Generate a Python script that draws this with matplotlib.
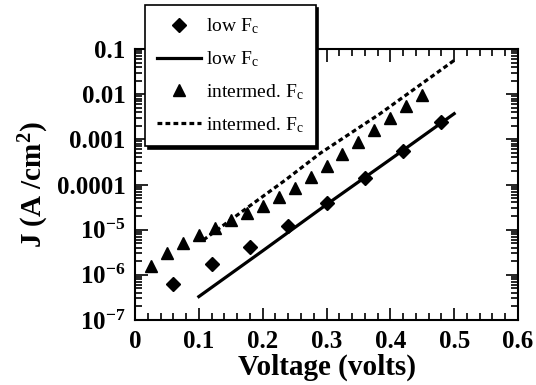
import matplotlib
matplotlib.use("Agg")
import matplotlib.pyplot as plt
from matplotlib.ticker import FixedLocator, FuncFormatter, LogLocator, MultipleLocator
import numpy as np

# Data
low_pts_v = [0.06, 0.12, 0.18, 0.24, 0.30, 0.36, 0.42, 0.48]
low_pts_j = [6.4e-7, 1.7e-6, 4.1e-6, 1.2e-5, 3.9e-5, 1.4e-4, 5.5e-4, 2.4e-3]

low_fit_v = [0.10, 0.20, 0.30, 0.40, 0.50]
low_fit_j = [3.3e-7, 3.4e-6, 3.6e-5, 3.6e-4, 3.7e-3]

int_pts_v = [0.025, 0.05, 0.075, 0.10, 0.125, 0.15, 0.175, 0.20, 0.225, 0.25,
             0.275, 0.30, 0.325, 0.35, 0.375, 0.40, 0.425, 0.45]
int_pts_j = [1.6e-6, 3.0e-6, 5.2e-6, 7.6e-6, 1.1e-5, 1.6e-5, 2.3e-5, 3.3e-5, 5.2e-5, 8.5e-5,
             1.5e-4, 2.6e-4, 4.7e-4, 8.6e-4, 1.6e-3, 3.0e-3, 5.5e-3, 9.5e-3]

int_fit_v = [0.107, 0.175, 0.237, 0.29, 0.384, 0.50]
int_fit_j = [5.9e-6, 3.0e-5, 1.3e-4, 4.9e-4, 3.7e-3, 5.6e-2]

labels = [r"low F$_{\mathrm{c}}$", r"low F$_{\mathrm{c}}$",
          r"intermed. F$_{\mathrm{c}}$", r"intermed. F$_{\mathrm{c}}$"]
ytick_vals = [1e-7, 1e-6, 1e-5, 1e-4, 1e-3, 1e-2, 1e-1]
ytick_labels = [r"10$^{\mathbf{-7}}$", r"10$^{\mathbf{-6}}$", r"10$^{\mathbf{-5}}$",
                "0.0001", "0.001", "0.01", "0.1"]
xtick_vals = [0, 0.1, 0.2, 0.3, 0.4, 0.5, 0.6]
xtick_labels = ["0", "0.1", "0.2", "0.3", "0.4", "0.5", "0.6"]

plt.rcParams['font.family'] = ['Liberation Serif', 'DejaVu Serif']
plt.rcParams['mathtext.fontset'] = 'custom'
plt.rcParams['mathtext.rm'] = 'Liberation Serif'
plt.rcParams['mathtext.bf'] = 'Liberation Serif:bold'
plt.rcParams['mathtext.it'] = 'Liberation Serif:italic'

fig = plt.figure(figsize=(5.36, 3.85), dpi=100)
ax = fig.add_axes([0.2519, 0.1688, 0.7145, 0.7039])

ax.plot(low_pts_v, low_pts_j, linestyle='none', marker='D', color='black',
        markersize=7.5, label=labels[0])
ax.plot(low_fit_v, low_fit_j, linestyle='-', color='black', linewidth=2.3, label=labels[1])
ax.plot(int_pts_v, int_pts_j, linestyle='none', marker='^', color='black',
        markersize=9, label=labels[2])
ax.plot(int_fit_v, int_fit_j, linestyle=(0, (1.5, 1.0)), color='black', linewidth=2.3,
        label=labels[3])

ax.set_yscale('log')
ax.set_xlim(0, 0.6)
ax.set_ylim(1e-7, 0.1)

ax.yaxis.set_major_locator(FixedLocator(ytick_vals))
ax.set_yticklabels(ytick_labels)
ax.yaxis.set_minor_locator(LogLocator(base=10, subs=np.arange(2, 10)))
ax.yaxis.set_minor_formatter(FuncFormatter(lambda v, p: ""))
ax.set_xticks(xtick_vals)
ax.set_xticklabels(xtick_labels)
ax.xaxis.set_minor_locator(MultipleLocator(0.02))

for lab in ax.get_xticklabels() + ax.get_yticklabels():
    lab.set_fontweight('bold')
    lab.set_fontsize(18)

ax.tick_params(which='both', direction='in', top=True, right=True, width=1.2)
ax.tick_params(which='major', length=9)
ax.tick_params(axis='y', which='major', pad=7)
ax.tick_params(axis='x', which='major', pad=7)
ax.tick_params(which='minor', length=5)
for s in ax.spines.values():
    s.set_linewidth(1.5)

ax.set_xlabel("Voltage (volts)", fontsize=21, fontweight='bold', labelpad=0.5)
ax.set_ylabel(r"J (A /cm$^{\mathbf{2}}$)", fontsize=21, fontweight='bold', labelpad=4)

leg = fig.legend(loc='upper left', bbox_to_anchor=(0.2705, 0.987), fontsize=14,
                 frameon=True, fancybox=False, shadow={'color': 'black', 'alpha': 1},
                 edgecolor='black', framealpha=1, borderpad=0.6, labelspacing=0.67,
                 handlelength=2.3, handletextpad=0.25, borderaxespad=0)
leg.get_frame().set_linewidth(1.2)

fig.savefig("out.png", dpi=100)
